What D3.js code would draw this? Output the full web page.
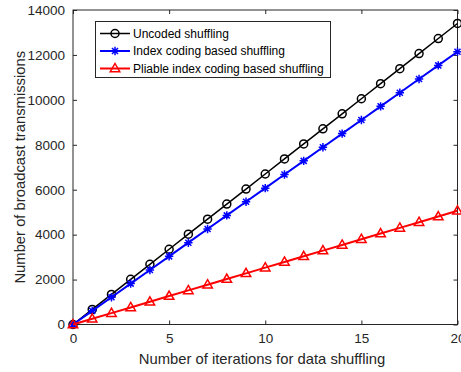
<!DOCTYPE html>
<html>
<head>
<meta charset="utf-8">
<script src="https://cdn.jsdelivr.net/npm/d3@7/dist/d3.min.js"></script>
<style>
  html, body { margin: 0; padding: 0; background: #fff; }
  svg { display: block; font-family: "Liberation Sans", Arial, Helvetica, sans-serif; }
</style>
</head>
<body>
<svg id="chart" width="461" height="372"></svg>
<script>
// Iterations of data shuffling
const iterations = [0,1,2,3,4,5,6,7,8,9,10,11,12,13,14,15,16,17,18,19,20];

// Number of broadcast transmissions per scheme
const uncoded = [0,670,1340,2010,2680,3350,4020,4690,5360,6030,6700,7370,8040,8710,9380,10050,10720,11390,12060,12730,13400];
const indexCoding = [0,607,1214,1821,2428,3035,3642,4249,4856,5463,6070,6677,7284,7891,8498,9105,9712,10319,10926,11533,12140];
const pliable = [0,253,506,759,1012,1265,1518,1771,2024,2277,2530,2783,3036,3289,3542,3795,4048,4301,4554,4807,5060];

const seriesNames = ["Uncoded shuffling", "Index coding based shuffling", "Pliable index coding based shuffling"];
const xTicks = [0,5,10,15,20];
const yTicks = [0,2000,4000,6000,8000,10000,12000,14000];

const axisColor = "#262626";
const series = [
  { name: seriesNames[0], values: uncoded, color: "#000000", marker: "circle", width: 1.5 },
  { name: seriesNames[1], values: indexCoding, color: "#0000ff", marker: "star", width: 2 },
  { name: seriesNames[2], values: pliable, color: "#ff0000", marker: "triangle", width: 2 }
];

const svg = d3.select("#chart");
const plot = { left: 73, top: 10, right: 457.5, bottom: 324.5 };

const x = d3.scaleLinear().domain([0, 20]).range([plot.left, plot.right]);
const y = d3.scaleLinear().domain([0, 14000]).range([plot.bottom, plot.top]);

// Box outline
svg.append("rect")
  .attr("x", plot.left).attr("y", plot.top)
  .attr("width", plot.right - plot.left).attr("height", plot.bottom - plot.top)
  .attr("fill", "none").attr("stroke", axisColor).attr("stroke-width", 1);

// Axes with inward ticks
const tickLen = 4;
function styleAxis(g) {
  g.select(".domain").remove();
  g.selectAll(".tick line").attr("stroke", axisColor);
  g.selectAll(".tick text").attr("fill", axisColor).style("font-size", "13.5px");
}

svg.append("g")
  .attr("transform", `translate(0,${plot.bottom})`)
  .call(d3.axisBottom(x).tickValues(xTicks).tickSizeInner(-tickLen).tickSizeOuter(0).tickPadding(9))
  .call(styleAxis);

svg.append("g")
  .attr("transform", `translate(0,${plot.top})`)
  .call(d3.axisTop(x).tickValues(xTicks).tickSizeInner(-tickLen).tickSizeOuter(0).tickFormat(""))
  .call(styleAxis);

svg.append("g")
  .attr("transform", `translate(${plot.left},0)`)
  .call(d3.axisLeft(y).tickValues(yTicks).tickSizeInner(-tickLen).tickSizeOuter(0).tickPadding(8).tickFormat(d3.format("d")))
  .call(styleAxis);

svg.append("g")
  .attr("transform", `translate(${plot.right},0)`)
  .call(d3.axisRight(y).tickValues(yTicks).tickSizeInner(-tickLen).tickSizeOuter(0).tickFormat(""))
  .call(styleAxis);

// Axis titles
svg.append("text")
  .attr("x", 262)
  .attr("y", 364)
  .attr("text-anchor", "middle")
  .attr("fill", axisColor)
  .style("font-size", "14.8px")
  .text("Number of iterations for data shuffling");

svg.append("text")
  .attr("transform", `translate(24.5,${(plot.top + plot.bottom) / 2}) rotate(-90)`)
  .attr("text-anchor", "middle")
  .attr("fill", axisColor)
  .style("font-size", "14.8px")
  .text("Number of broadcast transmissions");

// Marker drawing
function drawMarker(g, type, color) {
  if (type === "circle") {
    g.append("circle").attr("r", 4).attr("fill", "none").attr("stroke", color).attr("stroke-width", 1.5);
  } else if (type === "star") {
    const s = 4.2, d = s * 0.72;
    const p = `M${-s},0L${s},0M0,${-s}L0,${s}M${-d},${-d}L${d},${d}M${-d},${d}L${d},${-d}`;
    g.append("path").attr("d", p).attr("fill", "none").attr("stroke", color).attr("stroke-width", 1.5);
  } else if (type === "triangle") {
    const r = 5;
    const p = `M0,${-r}L${r * 0.95},${r * 0.65}L${-r * 0.95},${r * 0.65}Z`;
    g.append("path").attr("d", p).attr("fill", "none").attr("stroke", color).attr("stroke-width", 1.5);
  }
}

const line = d3.line().x((d, i) => x(iterations[i])).y(d => y(d));

series.forEach(s => {
  svg.append("path")
    .attr("d", line(s.values))
    .attr("fill", "none")
    .attr("stroke", s.color)
    .attr("stroke-width", s.width);
  s.values.forEach((v, i) => {
    const g = svg.append("g").attr("transform", `translate(${x(iterations[i])},${y(v)})`);
    drawMarker(g, s.marker, s.color);
  });
});

// Legend
const legend = svg.append("g");
legend.append("rect")
  .attr("x", 95.5).attr("y", 21.5).attr("width", 235).attr("height", 56)
  .attr("fill", "#fff").attr("stroke", axisColor).attr("stroke-width", 1);

series.forEach((s, i) => {
  const cy = 33.5 + i * 17.5;
  legend.append("line")
    .attr("x1", 100).attr("x2", 130).attr("y1", cy).attr("y2", cy)
    .attr("stroke", s.color).attr("stroke-width", s.width);
  const g = legend.append("g").attr("transform", `translate(115,${cy})`);
  drawMarker(g, s.marker, s.color);
  legend.append("text")
    .attr("x", 133).attr("y", cy)
    .attr("dy", "0.36em")
    .attr("fill", "#000")
    .style("font-size", "12px")
    .text(s.name);
});
</script>
</body>
</html>
